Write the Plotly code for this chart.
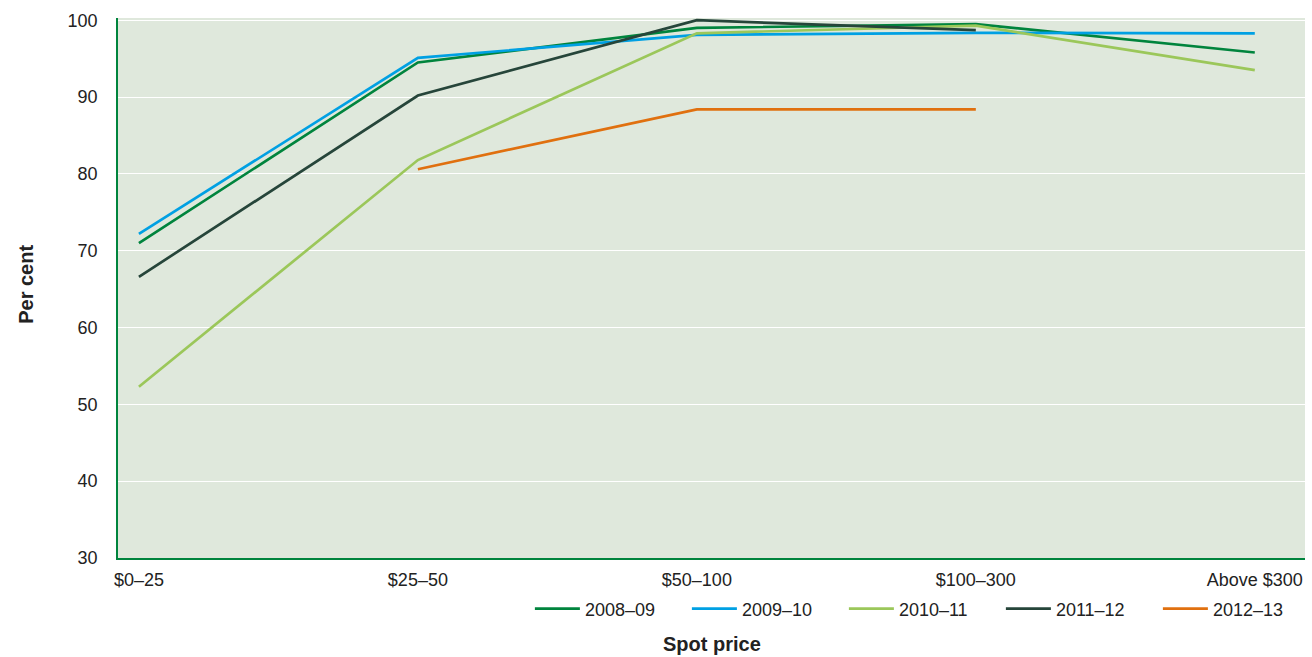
import plotly.graph_objects as go

categories = ["$0–25", "$25–50", "$50–100", "$100–300", "Above $300"]
series_names = ["2008–09", "2009–10", "2010–11", "2011–12", "2012–13"]
v2008 = [71.0, 94.5, 99.0, 99.5, 95.8]
v2009 = [72.2, 95.1, 98.1, 98.35, 98.3]
v2010 = [52.3, 81.8, 98.3, 99.3, 93.5]
v2011 = [66.6, 90.2, 100.0, 98.7, None]
v2012 = [None, 80.6, 88.4, 88.4, None]
colors = ["#00843d", "#00a0e3", "#9bc75a", "#26453a", "#e0700f"]

fig = go.Figure()
for name, vals, c in zip(series_names, [v2008, v2009, v2010, v2011, v2012], colors):
    fig.add_trace(go.Scatter(x=list(range(len(categories))), y=vals, mode="lines",
                             name=name, line=dict(color=c, width=2.7),
                             connectgaps=False))

font = "Liberation Sans, Arial, sans-serif"
fig.update_layout(
    width=1312, height=657,
    margin=dict(l=118, r=7, t=18, b=99, autoexpand=False),
    paper_bgcolor="white", plot_bgcolor="#dfe8dc",
    font=dict(family=font, size=18, color="#222222"),
    showlegend=True,
    legend=dict(orientation="h", x=0.347, xanchor="left", y=-0.0944, yanchor="middle",
                font=dict(size=18), itemwidth=45, traceorder="normal",
                entrywidth=97, entrywidthmode="pixels", bgcolor="rgba(0,0,0,0)"),
    xaxis=dict(tickmode="array", tickvals=list(range(len(categories))), ticktext=categories,
               range=[-0.075, 4.18], showgrid=False, showline=True, linecolor="#00843d",
               linewidth=1.5, ticks="", zeroline=False, automargin=False,
               ticklabelstandoff=5),
    yaxis=dict(range=[30, 100.29], dtick=10, tick0=30, showgrid=True, gridcolor="white",
               gridwidth=1.2, showline=True, linecolor="#00843d", linewidth=1.5,
               ticks="", zeroline=False, ticklabelstandoff=15, automargin=False),
    annotations=[
        dict(text="<b>Spot price</b>", xref="paper", yref="paper", x=0.5, y=-0.159,
             xanchor="center", yanchor="middle", showarrow=False, font=dict(size=20)),
        dict(text="<b>Per cent</b>", xref="paper", yref="paper", x=-0.077, y=0.507,
             xanchor="center", yanchor="middle", showarrow=False, textangle=-90,
             font=dict(size=20)),
    ],
)
fig.write_html("out.html", config={"displayModeBar": False},
               post_script="document.body.style.margin='0';")
